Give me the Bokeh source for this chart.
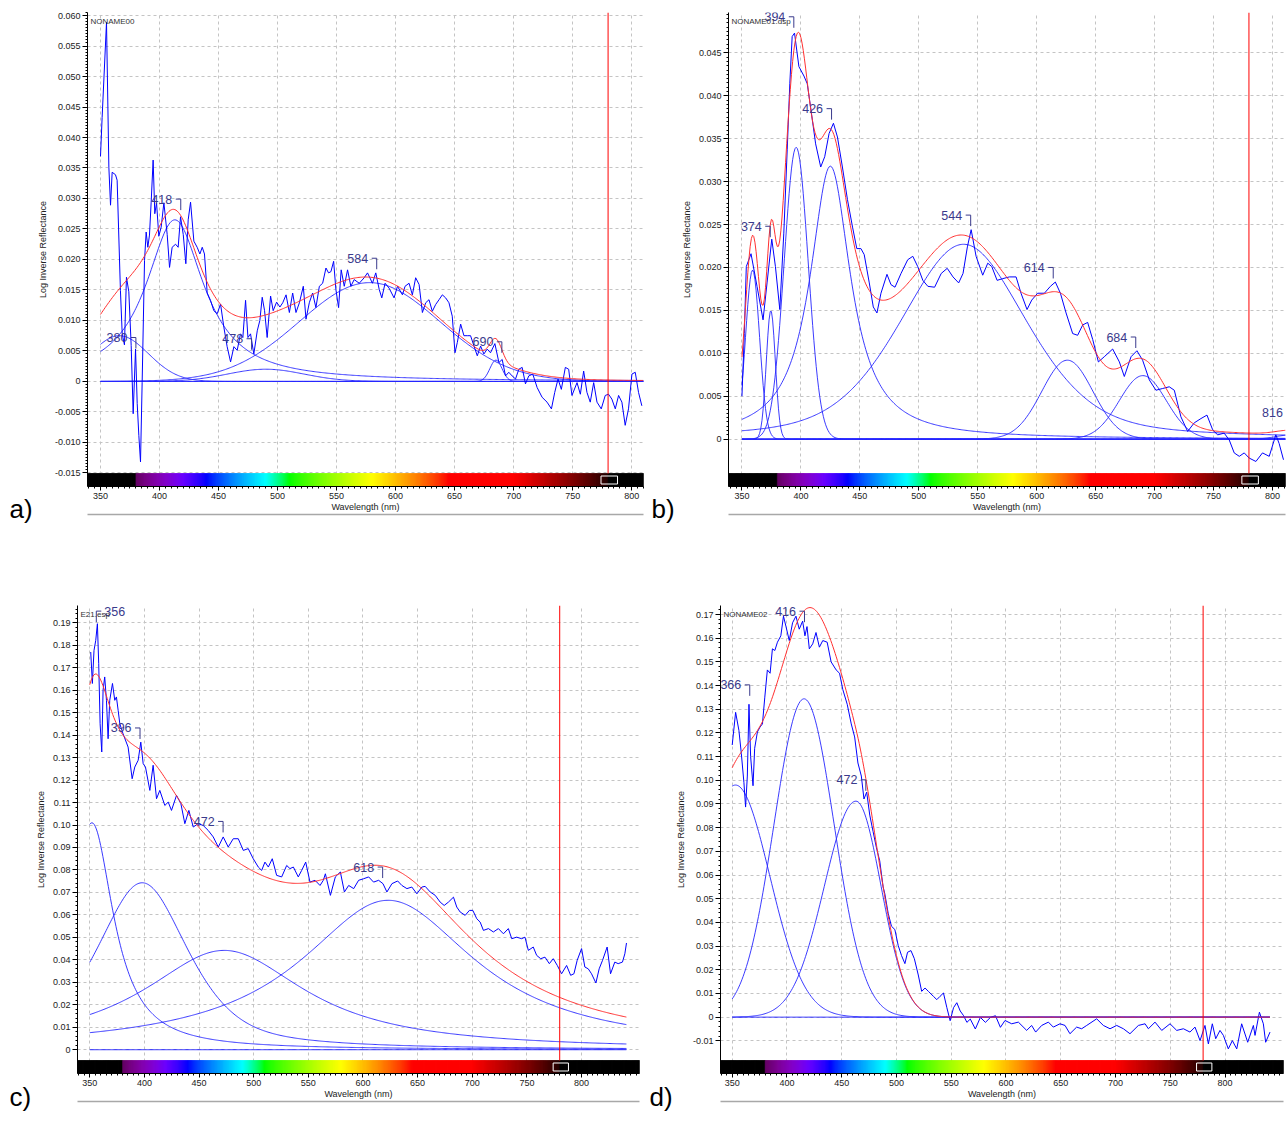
import numpy as np
from bokeh.plotting import figure
from bokeh.models import Range1d, FixedTicker, LinearAxis, ColumnDataSource
from bokeh.layouts import column, row
from bokeh.embed import file_html
from bokeh.resources import INLINE
from bokeh.core.properties import value

FONT = "Liberation Sans"
SPEC_COLOR = "#0000ff"
COMP_COLOR = "#2626ff"
FIT_COLOR = "#ff3030"
LABEL_COLOR = "#3a3a8c"
MARKER_NM = 780
MARKER_BOX = [774, 788]

X_TICK_LABELS = ["350", "400", "450", "500", "550", "600", "650", "700", "750", "800"]

# ---------------- panel a ----------------
A_HEADER = "NONAME00"
A_YTICK_LABELS = ["-0.015", "-0.010", "-0.005", "0", "0.005", "0.010", "0.015", "0.020",
                  "0.025", "0.030", "0.035", "0.040", "0.045", "0.050", "0.055", "0.060"]
A_WL = [350.0, 351.4, 355.1, 357.1, 358.5, 359.9, 362.7, 364.1, 366.9, 368.4, 370.3, 372.0, 374.0,
        376.0, 377.7, 379.7, 381.1, 382.5, 383.9, 385.3, 387.3, 388.7, 390.1, 391.5, 392.9, 394.6,
        396.0, 397.5, 399.4, 401.4, 403.7, 406.5, 408.5, 410.7, 413.6, 415.8, 417.8, 420.1, 422.3,
        424.3, 426.3, 429.1, 431.9, 434.2, 436.2, 438.1, 440.4, 443.2, 446.0, 448.9, 451.7, 454.5,
        457.3, 460.2, 463.0, 465.8, 468.6, 470.6, 472.9, 474.9, 477.1, 479.9, 482.8, 485.0, 487.0,
        489.0, 491.2, 494.1, 496.3, 499.2, 502.0, 504.4, 507.2, 510.0, 512.8, 515.6, 518.5, 521.8,
        524.1, 526.9, 529.7, 532.5, 535.4, 538.2, 541.0, 543.2, 545.2, 547.5, 549.4, 551.7, 553.9,
        556.5, 559.3, 562.1, 564.9, 569.2, 573.4, 576.2, 580.4, 583.2, 586.1, 588.3, 591.1, 594.5,
        598.7, 601.6, 605.8, 608.0, 611.4, 614.2, 617.0, 619.9, 622.7, 625.5, 628.3, 631.1, 633.9,
        636.8, 639.6, 642.4, 645.2, 648.0, 650.3, 652.3, 655.1, 657.9, 660.7, 663.5, 666.4, 669.2,
        672.0, 674.8, 677.6, 680.4, 684.1, 687.5, 690.3, 693.1, 695.9, 698.7, 701.6, 704.4, 707.2,
        710.0, 712.8, 716.2, 719.9, 724.1, 728.3, 732.0, 734.8, 737.6, 740.4, 743.8, 746.6, 749.4,
        753.7, 756.5, 759.3, 762.1, 764.9, 767.8, 770.6, 774.2, 777.6, 780.4, 783.2, 786.1, 788.9,
        791.7, 794.5, 797.3, 800.2, 803.0, 805.8, 808.6]
A_VAL = [0.0369, 0.0433, 0.0589, 0.0351, 0.0289, 0.0343, 0.0339, 0.0330, 0.0149, 0.0078, 0.0060,
         0.0171, 0.0147, 0.0059, -0.0053, 0.0053, -0.0036, -0.0089, -0.0132, -0.0002, 0.0198, 0.0245,
         0.0220, 0.0240, 0.0293, 0.0363, 0.0275, 0.0293, 0.0238, 0.0253, 0.0293, 0.0241, 0.0187,
         0.0220, 0.0225, 0.0220, 0.0270, 0.0241, 0.0193, 0.0265, 0.0294, 0.0230, 0.0220, 0.0209,
         0.0220, 0.0209, 0.0145, 0.0133, 0.0116, 0.0111, 0.0127, 0.0089, 0.0057, 0.0032, 0.0057,
         0.0051, 0.0078, 0.0072, 0.0133, 0.0072, 0.0078, 0.0045, 0.0083, 0.0100, 0.0138, 0.0116,
         0.0072, 0.0140, 0.0116, 0.0130, 0.0122, 0.0129, 0.0142, 0.0113, 0.0145, 0.0113, 0.0129,
         0.0156, 0.0102, 0.0129, 0.0145, 0.0121, 0.0156, 0.0161, 0.0186, 0.0178, 0.0180, 0.0197,
         0.0151, 0.0121, 0.0183, 0.0156, 0.0183, 0.0156, 0.0167, 0.0161, 0.0170, 0.0178, 0.0161,
         0.0178, 0.0151, 0.0137, 0.0161, 0.0153, 0.0137, 0.0156, 0.0142, 0.0156, 0.0161, 0.0142,
         0.0170, 0.0159, 0.0113, 0.0129, 0.0134, 0.0115, 0.0126, 0.0134, 0.0142, 0.0137, 0.0129,
         0.0107, 0.0047, 0.0064, 0.0094, 0.0075, 0.0075, 0.0075, 0.0058, 0.0042, 0.0058, 0.0045,
         0.0053, 0.0047, 0.0062, 0.0031, 0.0036, 0.0009, 0.0015, 0.0009, 0.0004, 0.0020, 0.0023,
         -0.0004, 0.0009, 0.0012, -0.0010, -0.0026, -0.0034, -0.0045, -0.0018, 0.0004, -0.0013,
         0.0023, 0.0020, -0.0023, -0.0002, -0.0021, 0.0017, -0.0018, -0.0034, -0.0002, -0.0034,
         -0.0045, -0.0023, -0.0021, -0.0029, -0.0045, -0.0023, -0.0034, -0.0072, -0.0045, 0.0012,
         0.0015, -0.0018, -0.0040]
A_PEAK_NM = [380, 418, 478, 584, 690]
A_PEAK_Y = [0.0072, 0.0299, 0.0070, 0.0202, 0.0065]
A_PEAK_SIDE = ["L", "L", "L", "L", "L"]
A_CENTER = [366, 413, 490, 578, 685]
A_HEIGHT = [0.0075, 0.0265, 0.0020, 0.0162, 0.0035]
A_WIDTH_L = [29, 30, 38, 70, 6]
A_WIDTH_R = [29, 30, 38, 70, 6]
A_LORENTZ = [0.0, 1.0, 0.0, 0.0, 0.0]

# ---------------- panel b ----------------
B_HEADER = "NONAME01.dsp"
B_YTICK_LABELS = ["0", "0.005", "0.010", "0.015", "0.020", "0.025", "0.030", "0.035", "0.040", "0.045"]
B_WL = [350.0, 352.0, 353.7, 357.7, 362.8, 367.9, 371.3, 375.3, 378.4, 382.1, 385.5, 388.4, 390.6,
        392.6, 394.6, 398.3, 402.6, 405.4, 408.2, 412.5, 416.8, 420.2, 423.9, 427.6, 431.0, 435.2,
        439.5, 443.8, 447.4, 450.9, 453.7, 458.0, 461.4, 464.5, 467.9, 473.0, 476.4, 479.8, 484.9,
        490.6, 494.9, 499.1, 503.4, 507.7, 513.4, 519.0, 524.1, 529.0, 533.8, 537.5, 541.2, 544.4,
        548.6, 554.2, 558.5, 561.9, 566.4, 571.2, 576.8, 582.5, 586.7, 591.8, 595.8, 600.8, 606.5,
        611.6, 615.8, 620.1, 624.9, 630.5, 634.7, 639.0, 643.2, 647.5, 652.3, 657.3, 664.4, 670.1,
        674.3, 680.0, 685.0, 689.8, 695.5, 701.1, 706.8, 712.4, 716.7, 722.3, 728.0, 733.6, 739.3,
        744.4, 749.2, 753.4, 759.0, 763.3, 767.5, 771.8, 776.0, 780.2, 785.9, 791.5, 797.2, 802.8,
        805.6, 809.3]
B_VAL = [0.0050, 0.0123, 0.0201, 0.0216, 0.0178, 0.0139, 0.0182, 0.0233, 0.0201, 0.0151, 0.0240,
         0.0337, 0.0414, 0.0469, 0.0473, 0.0434, 0.0423, 0.0414, 0.0387, 0.0344, 0.0317, 0.0329,
         0.0356, 0.0368, 0.0352, 0.0317, 0.0279, 0.0247, 0.0222, 0.0222, 0.0215, 0.0182, 0.0154,
         0.0147, 0.0170, 0.0192, 0.0180, 0.0177, 0.0193, 0.0209, 0.0213, 0.0201, 0.0185, 0.0178,
         0.0177, 0.0193, 0.0199, 0.0189, 0.0182, 0.0193, 0.0224, 0.0244, 0.0213, 0.0191, 0.0205,
         0.0201, 0.0185, 0.0187, 0.0189, 0.0189, 0.0170, 0.0151, 0.0162, 0.0170, 0.0170, 0.0178,
         0.0183, 0.0170, 0.0147, 0.0123, 0.0121, 0.0133, 0.0136, 0.0116, 0.0090, 0.0096, 0.0105,
         0.0090, 0.0073, 0.0096, 0.0103, 0.0092, 0.0069, 0.0057, 0.0059, 0.0061, 0.0057, 0.0026,
         0.0009, 0.0019, 0.0024, 0.0028, 0.0011, 0.0005, 0.0007, -0.0001, -0.0016, -0.0020, -0.0016,
         -0.0022, -0.0026, -0.0016, -0.0020, 0.0005, -0.0005, -0.0024]
B_PEAK_NM = [374, 394, 426, 544, 614, 684, 816]
B_PEAK_Y = [0.0248, 0.0492, 0.0385, 0.0261, 0.0200, 0.0119, 0.0031]
B_PEAK_SIDE = ["L", "L", "L", "L", "L", "L", "L"]
B_CENTER = [359, 374.5, 396, 425, 538, 626, 690, 816]
B_HEIGHT = [0.0197, 0.0150, 0.0340, 0.0318, 0.0227, 0.0092, 0.0074, 0.0005]
B_WIDTH_L = [7, 4.5, 12, 21, 64, 25.5, 23.5, 15]
B_WIDTH_R = [7, 4.5, 12, 21, 64, 25.5, 23.5, 15]
B_LORENTZ = [0.0, 0.0, 0.0, 1.0, 0.4, 0.0, 0.0, 0.0]

# ---------------- panel c ----------------
C_HEADER = "E21.esp"
C_YTICK_LABELS = ["0", "0.01", "0.02", "0.03", "0.04", "0.05", "0.06", "0.07", "0.08", "0.09", "0.10",
                  "0.11", "0.12", "0.13", "0.14", "0.15", "0.16", "0.17", "0.18", "0.19"]
C_WL = [350.9, 352.4, 353.9, 355.5, 357.0, 358.2, 359.5, 361.0, 362.2, 363.7, 365.3, 366.8, 368.3,
        370.8, 372.9, 374.4, 376.0, 377.5, 380.5, 385.1, 388.8, 391.2, 394.3, 396.7, 398.9, 401.0,
        405.0, 408.0, 411.1, 414.1, 418.7, 421.8, 424.8, 429.4, 433.4, 437.0, 440.7, 444.7, 449.2,
        453.8, 458.4, 463.0, 467.6, 472.1, 476.7, 481.3, 485.9, 490.5, 495.0, 499.6, 504.2, 507.3,
        510.3, 513.4, 517.0, 521.0, 525.6, 530.2, 533.2, 536.3, 540.8, 543.9, 547.6, 551.5, 556.1,
        560.7, 563.7, 565.6, 570.2, 574.7, 579.3, 583.0, 586.9, 591.5, 596.0, 600.6, 605.2, 609.7,
        614.3, 618.3, 621.9, 626.5, 631.7, 635.6, 640.2, 644.7, 649.3, 653.9, 656.9, 661.5, 666.1,
        670.6, 674.3, 678.2, 682.8, 685.8, 688.9, 693.5, 697.4, 700.5, 704.1, 707.2, 710.2, 714.8,
        719.3, 723.9, 728.5, 733.0, 736.1, 740.6, 745.2, 748.2, 751.3, 755.8, 758.9, 762.6, 766.5,
        770.5, 774.1, 777.8, 781.7, 786.3, 790.0, 793.0, 796.0, 800.0, 803.0, 806.1, 809.1, 813.1,
        816.1, 819.2, 823.4, 826.5, 830.4, 833.5, 837.4, 839.6, 841.1]
C_VAL = [0.1770, 0.1630, 0.1777, 0.1822, 0.1896, 0.1718, 0.1451, 0.1325, 0.1600, 0.1659, 0.1555,
         0.1384, 0.1555, 0.1630, 0.1555, 0.1570, 0.1510, 0.1451, 0.1406, 0.1347, 0.1206, 0.1258,
         0.1288, 0.1369, 0.1273, 0.1258, 0.1154, 0.1266, 0.1117, 0.1154, 0.1087, 0.1102, 0.1065,
         0.1132, 0.1095, 0.1006, 0.1065, 0.0991, 0.1006, 0.0998, 0.0976, 0.0947, 0.0902, 0.0947,
         0.0902, 0.0939, 0.0939, 0.0887, 0.0895, 0.0850, 0.0813, 0.0798, 0.0835, 0.0813, 0.0850,
         0.0776, 0.0769, 0.0820, 0.0806, 0.0813, 0.0769, 0.0798, 0.0835, 0.0746, 0.0754, 0.0731,
         0.0754, 0.0783, 0.0687, 0.0769, 0.0791, 0.0702, 0.0731, 0.0717, 0.0754, 0.0761, 0.0769,
         0.0746, 0.0754, 0.0739, 0.0702, 0.0739, 0.0751, 0.0731, 0.0717, 0.0724, 0.0694, 0.0724,
         0.0727, 0.0702, 0.0687, 0.0657, 0.0642, 0.0657, 0.0679, 0.0635, 0.0613, 0.0598, 0.0620,
         0.0620, 0.0583, 0.0568, 0.0531, 0.0539, 0.0524, 0.0539, 0.0516, 0.0539, 0.0494, 0.0501,
         0.0494, 0.0501, 0.0442, 0.0457, 0.0420, 0.0405, 0.0412, 0.0383, 0.0405, 0.0375, 0.0338,
         0.0375, 0.0331, 0.0338, 0.0398, 0.0450, 0.0368, 0.0360, 0.0338, 0.0297, 0.0360, 0.0398,
         0.0457, 0.0338, 0.0390, 0.0383, 0.0390, 0.0427, 0.0475]
C_PEAK_NM = [356, 396, 472, 618]
C_PEAK_Y = [0.1952, 0.1432, 0.1016, 0.0813]
C_PEAK_SIDE = ["R", "L", "L", "L"]
C_CENTER = [352, 398, 473, 623]
C_HEIGHT = [0.101, 0.0743, 0.0442, 0.0665]
C_WIDTH_L = [24, 50, 91, 98]
C_WIDTH_R = [24, 50, 91, 98]
C_LORENTZ = [1.0, 0.6, 1.0, 1.0]

# ---------------- panel d ----------------
D_HEADER = "NONAME02"
D_YTICK_LABELS = ["-0.01", "0", "0.01", "0.02", "0.03", "0.04", "0.05", "0.06", "0.07", "0.08", "0.09",
                  "0.10", "0.11", "0.12", "0.13", "0.14", "0.15", "0.16", "0.17"]
D_WL = [350.0, 353.1, 356.1, 358.3, 360.7, 362.2, 363.8, 365.3, 366.8, 369.0, 370.5, 373.0, 375.4,
        377.6, 379.7, 382.1, 384.6, 386.7, 388.9, 391.3, 394.4, 396.8, 399.0, 402.1, 405.1, 408.2,
        411.2, 414.3, 416.4, 418.3, 420.4, 423.5, 426.5, 429.6, 432.7, 436.7, 440.3, 444.9, 448.0,
        451.0, 455.0, 458.7, 461.8, 464.8, 467.9, 470.3, 472.8, 475.6, 478.6, 481.7, 484.7, 487.8,
        489.3, 492.4, 495.4, 498.5, 501.6, 504.6, 507.7, 510.1, 513.2, 516.3, 519.9, 523.0, 526.1,
        529.1, 533.7, 536.8, 539.8, 542.9, 546.0, 549.0, 552.1, 555.1, 558.2, 561.3, 564.3, 567.4,
        572.0, 576.6, 581.2, 585.8, 590.4, 594.9, 599.1, 605.2, 611.3, 618.9, 623.4, 627.1, 632.6,
        638.7, 643.2, 649.3, 653.9, 658.4, 664.5, 669.1, 673.7, 682.8, 688.9, 695.0, 701.1, 707.2,
        713.2, 720.9, 727.0, 730.0, 736.1, 742.2, 749.8, 755.9, 762.0, 768.0, 772.6, 777.2, 781.7,
        784.8, 788.4, 791.5, 795.4, 798.5, 803.0, 806.7, 810.7, 815.2, 820.7, 825.9, 827.4, 831.4,
        835.0, 837.1, 841.1]
D_VAL = [0.1149, 0.1287, 0.1211, 0.1114, 0.0990, 0.0887, 0.1018, 0.1321, 0.1101, 0.0977, 0.1135,
         0.1204, 0.1225, 0.1238, 0.1348, 0.1466, 0.1452, 0.1555, 0.1548, 0.1583, 0.1610, 0.1693,
         0.1651, 0.1590, 0.1665, 0.1693, 0.1638, 0.1672, 0.1610, 0.1649, 0.1555, 0.1576, 0.1624,
         0.1562, 0.1590, 0.1583, 0.1500, 0.1466, 0.1452, 0.1383, 0.1321, 0.1238, 0.1183, 0.1073,
         0.1018, 0.0921, 0.0950, 0.0853, 0.0784, 0.0715, 0.0660, 0.0550, 0.0522, 0.0439, 0.0384,
         0.0370, 0.0302, 0.0260, 0.0226, 0.0274, 0.0281, 0.0247, 0.0178, 0.0109, 0.0123, 0.0109,
         0.0088, 0.0074, 0.0088, 0.0102, 0.0040, -0.0015, 0.0040, 0.0061, 0.0026, 0.0006, -0.0022,
         -0.0008, -0.0050, -0.0001, -0.0022, -0.0001, 0.0006, -0.0043, -0.0014, -0.0028, -0.0021,
         -0.0056, -0.0035, -0.0063, -0.0035, -0.0021, -0.0042, -0.0028, -0.0035, -0.0070, -0.0042,
         -0.0049, -0.0035, -0.0007, -0.0035, -0.0049, -0.0035, -0.0049, -0.0070, -0.0035, -0.0028,
         -0.0049, -0.0021, -0.0056, -0.0028, -0.0056, -0.0049, -0.0063, -0.0042, -0.0099, -0.0035,
         -0.0113, -0.0028, -0.0091, -0.0056, -0.0077, -0.0134, -0.0099, -0.0134, -0.0028, -0.0106,
         -0.0035, -0.0077, 0.0021, -0.0028, -0.0106, -0.0063]
D_PEAK_NM = [366, 416, 472]
D_PEAK_Y = [0.1403, 0.1714, 0.1002]
D_PEAK_SIDE = ["L", "L", "L"]
D_CENTER = [353, 415.6, 463]
D_HEIGHT = [0.098, 0.1344, 0.0912]
D_WIDTH_L = [37, 32.3, 34]
D_WIDTH_R = [37, 32.3, 27]
D_LORENTZ = [0.0, 0.0, 0.0]

CB_PX = 13


def pseudo_voigt(x, c, h, wl, wr, eta):
    w = np.where(x < c, wl, wr)
    t = ((x - c) / w) ** 2
    return h * (eta / (1.0 + t) + (1.0 - eta) * np.exp(-np.log(2.0) * t))


def spectral_hex(w):
    if w < 380 or w > 780:
        return "#000000"
    if w < 440:
        r, g, b = (440 - w) / 60.0, 0.0, 1.0
    elif w < 490:
        r, g, b = 0.0, (w - 440) / 50.0, 1.0
    elif w < 510:
        r, g, b = 0.0, 1.0, (510 - w) / 20.0
    elif w < 580:
        r, g, b = (w - 510) / 70.0, 1.0, 0.0
    elif w < 645:
        r, g, b = 1.0, (645 - w) / 65.0, 0.0
    else:
        r, g, b = 1.0, 0.0, 0.0
    if w < 420:
        f = 0.3 + 0.7 * (w - 380) / 40.0
    elif w <= 700:
        f = 1.0
    else:
        f = 0.08 + 0.92 * (780 - w) / 80.0

    def c(v):
        return int(round(255 * (v * f) ** 0.8)) if v > 0 else 0
    return "#%02x%02x%02x" % (c(r), c(g), c(b))


def letter_figure(letter, width, height, tx, ty):
    """Narrow strip left of a panel that carries the panel letter."""
    q = figure(width=width, height=height, x_range=Range1d(0, width), y_range=Range1d(0, height),
               output_backend="svg", toolbar_location=None, x_axis_type=None, y_axis_type=None,
               title=None, min_border=0, min_border_left=0, min_border_right=0, min_border_top=0,
               min_border_bottom=0)
    try:
        q.frame_align = False
    except Exception:
        pass
    q.outline_line_color = None
    q.grid.visible = False
    q.text(x=[tx], y=[ty], text=[letter + ")"], text_font=value(FONT), text_font_size=value("26px"),
           text_color="#000000", text_align="left", text_baseline="middle")
    return q


def build_panel(header, wl, val, ylabels, minor_step, peak_nm, peak_y, peak_side,
                centers, heights, wls, wrs, etas, xr, ylo, yhi, fit_end,
                width, height, bl, br, bt, bb):
    fw = width - bl - br
    fh = height - bt - bb
    dy = (yhi - ylo) / (fh - CB_PX)
    dx = (xr[1] - xr[0]) / fw
    ycb = ylo - CB_PX * dy

    p = figure(width=width, height=height, x_range=Range1d(xr[0], xr[1]),
               y_range=Range1d(ycb, yhi), output_backend="svg", toolbar_location=None,
               min_border_left=bl, min_border_right=br, min_border_top=bt, min_border_bottom=bb)
    p.outline_line_color = None
    p.background_fill_color = "white"
    p.border_fill_color = "white"

    xax = p.xaxis[0]
    yax = p.yaxis[0]
    xt = [float(s) for s in X_TICK_LABELS]
    xax.ticker = FixedTicker(ticks=xt, minor_ticks=list(np.arange(340.0, 856.0, 5.0)))
    yt = [float(s) for s in ylabels]
    minor = []
    v = min(yt)
    while v <= yhi + 1e-12:
        if v >= ylo - 1e-12:
            minor.append(round(v, 6))
        v += minor_step
    yax.ticker = FixedTicker(ticks=yt, minor_ticks=minor)
    yax.major_label_overrides = {t: s for t, s in zip(yt, ylabels)}

    for ax in (xax, yax):
        ax.major_label_text_font = FONT
        ax.major_label_text_font_size = "9px"
        ax.major_label_text_color = "#222222"
        ax.axis_label_text_font = FONT
        ax.axis_label_text_font_size = "9px"
        ax.axis_label_text_font_style = "normal"
        ax.axis_label_text_color = "#222222"
        ax.axis_line_color = "#000000"
        ax.major_tick_line_color = "#000000"
        ax.minor_tick_line_color = "#000000"
        ax.major_tick_in = 0
        ax.minor_tick_in = 0
        ax.minor_tick_out = 2
    xax.major_tick_out = 4
    yax.major_tick_out = 5
    xax.major_label_standoff = 2
    yax.major_label_standoff = 2
    xax.axis_label = "Wavelength (nm)"
    yax.axis_label = "Log Inverse Reflectance"
    xax.axis_label_standoff = 0
    yax.axis_label_standoff = 4

    p.grid.grid_line_color = "#c4c4c4"
    p.grid.grid_line_dash = "3 3"
    p.grid.grid_line_width = 1

    # grey separator rule under the axis title
    sep = LinearAxis(ticker=FixedTicker(ticks=[]), axis_line_color="#a8a8a8", axis_line_width=1.5,
                     major_tick_line_color=None, minor_tick_line_color=None,
                     major_label_text_font_size="0px")
    p.add_layout(sep, "below")

    # spectrum colour bar under the plot area
    nm = np.arange(np.floor(xr[0]), np.ceil(xr[1]) + 1.0, 1.0)
    cols = [spectral_hex(w + 0.5) for w in nm]
    cb = ColumnDataSource(dict(left=nm, right=nm + 1.6, bottom=[ycb] * len(nm), top=[ylo] * len(nm),
                               color=cols))
    p.quad(left="left", right="right", bottom="bottom", top="top", fill_color="color",
           line_color="color", line_width=0.5, source=cb)
    p.quad(left=[MARKER_BOX[0]], right=[MARKER_BOX[1]], bottom=[ycb + 2.5 * dy], top=[ylo - 2.5 * dy],
           fill_alpha=0, line_color="white", line_width=1)

    # fitted components, baseline and sum
    grid = np.arange(350.0, fit_end + 0.01, 1.0)
    total = np.zeros_like(grid)
    p.line(grid, np.zeros_like(grid), line_color=COMP_COLOR, line_width=1)
    for c, h, a, b, e in zip(centers, heights, wls, wrs, etas):
        comp = pseudo_voigt(grid, c, h, a, b, e)
        total = total + comp
        p.line(grid, comp, line_color=COMP_COLOR, line_width=1, line_alpha=0.9)

    p.line(wl, val, line_color=SPEC_COLOR, line_width=1)
    p.line(grid, total, line_color=FIT_COLOR, line_width=1)

    # marker line
    p.segment(x0=[MARKER_NM], y0=[ylo], x1=[MARKER_NM], y1=[yhi], line_color="#ff0000", line_width=1)

    # peak labels with brackets
    for side in ("L", "R"):
        idx = [i for i, s in enumerate(peak_side) if s == side]
        if not idx:
            continue
        pn = [peak_nm[i] for i in idx]
        py = [peak_y[i] for i in idx]
        if side == "L":
            tx = [n - 8.5 * dx for n in pn]
            hx0 = [n - 5.0 * dx for n in pn]
            align = "right"
        else:
            tx = [n + 8.0 * dx for n in pn]
            hx0 = [n + 5.0 * dx for n in pn]
            align = "left"
        src = ColumnDataSource(dict(x=tx, y=py, t=[str(n) for n in pn]))
        p.text(x="x", y="y", text="t", source=src, text_font=value(FONT),
               text_font_size=value("12.5px"), text_color=LABEL_COLOR, text_align=align,
               text_baseline="middle")
        p.segment(x0=hx0, y0=py, x1=pn, y1=py, line_color=LABEL_COLOR, line_width=1)
        p.segment(x0=pn, y0=py, x1=pn, y1=[y - 11.0 * dy for y in py],
                  line_color=LABEL_COLOR, line_width=1)

    # file name in the corner
    p.text(x=[xr[0] + 3 * dx], y=[yhi - 9 * dy], text=[header], text_font=value(FONT),
           text_font_size=value("8px"), text_color="#333333", text_align="left",
           text_baseline="middle")
    return p


TOP_H = 530
BOT_H = 587

la = letter_figure("a", 33, TOP_H, 9, 22)
pa = build_panel(A_HEADER, A_WL, A_VAL, A_YTICK_LABELS, 0.0005, A_PEAK_NM, A_PEAK_Y, A_PEAK_SIDE,
                 A_CENTER, A_HEIGHT, A_WIDTH_L, A_WIDTH_R, A_LORENTZ,
                 (339.0, 810.0), -0.0151, 0.0605, 810,
                 612, TOP_H, 54, 2, 12, 44)
lb = letter_figure("b", 33, TOP_H, 6, 22)
pb = build_panel(B_HEADER, B_WL, B_VAL, B_YTICK_LABELS, 0.0005, B_PEAK_NM, B_PEAK_Y, B_PEAK_SIDE,
                 B_CENTER, B_HEIGHT, B_WIDTH_L, B_WIDTH_R, B_LORENTZ,
                 (338.6, 811.0), -0.0040, 0.0497, 811,
                 608, TOP_H, 50, 1, 12, 44)
lc = letter_figure("c", 32, BOT_H, 9, 21)
pc = build_panel(C_HEADER, C_WL, C_VAL, C_YTICK_LABELS, 0.002, C_PEAK_NM, C_PEAK_Y, C_PEAK_SIDE,
                 C_CENTER, C_HEIGHT, C_WIDTH_L, C_WIDTH_R, C_LORENTZ,
                 (338.8, 853.0), -0.0048, 0.1977, 841,
                 609, BOT_H, 44, 2, 75, 44)
ld = letter_figure("d", 31, BOT_H, 8, 21)
pd = build_panel(D_HEADER, D_WL, D_VAL, D_YTICK_LABELS, 0.002, D_PEAK_NM, D_PEAK_Y, D_PEAK_SIDE,
                 D_CENTER, D_HEIGHT, D_WIDTH_L, D_WIDTH_R, D_LORENTZ,
                 (339.3, 853.4), -0.0183, 0.1738, 841,
                 613, BOT_H, 47, 2, 75, 44)

layout = column(row(la, pa, lb, pb), row(lc, pc, ld, pd))
open("out.html", "w").write(file_html(layout, INLINE))
